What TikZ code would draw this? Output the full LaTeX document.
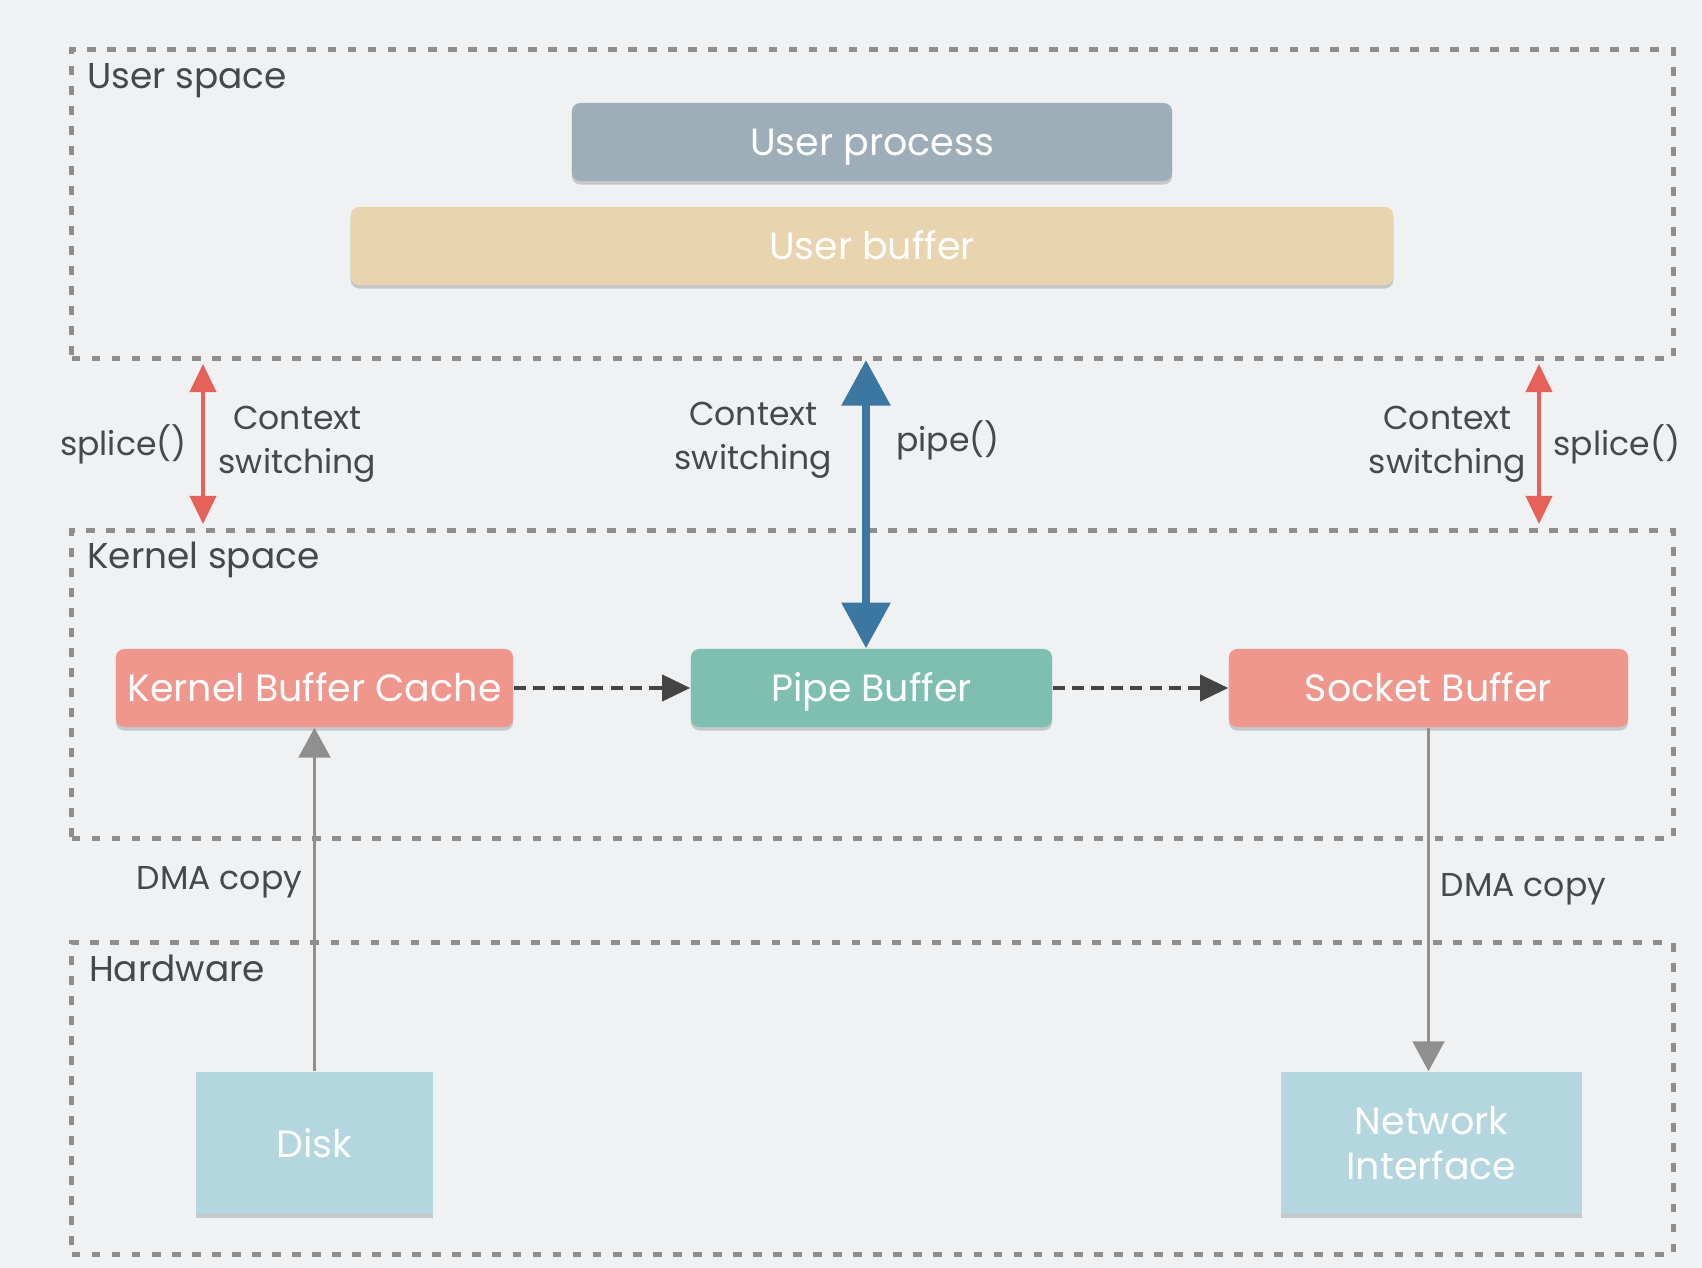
\documentclass[tikz,border=0pt]{standalone}
\usepackage{fontspec}
\setmainfont{Poppins}
\usetikzlibrary{positioning,arrows.meta,shadows}

\definecolor{bg}{HTML}{F0F1F3}
\definecolor{ink}{HTML}{46484C}
\definecolor{dashgray}{HTML}{8E8E8E}
\definecolor{procgray}{HTML}{9DAEB8}
\definecolor{bufsand}{HTML}{E8D4AE}
\definecolor{salmon}{HTML}{EF978D}
\definecolor{pipeteal}{HTML}{7EBFB2}
\definecolor{hwblue}{HTML}{B4D6DF}
\definecolor{ctxred}{HTML}{E5625B}
\definecolor{pipeblue}{HTML}{3B77A1}
\definecolor{dmagray}{HTML}{8F8F8F}
\definecolor{flowdark}{HTML}{444444}

\tikzset{
  layer/.style={draw=dashgray, line width=1.4pt, dash pattern=on 2.5pt off 3.2pt,
    minimum width=16.01cm, inner sep=0pt},
  layername/.style={text=ink, font=\fontsize{10.2}{12}\selectfont, inner sep=0pt},
  buf/.style={rounded corners=2.4pt, text=white, font=\fontsize{10.8}{13}\selectfont,
    minimum height=0.78cm, inner sep=0pt, text height=7.6pt, text depth=0pt,
    drop shadow={shadow xshift=0pt, shadow yshift=-1pt, opacity=0.22, fill=black!80}},
  hwbox/.style={buf, rounded corners=0pt, fill=hwblue, minimum height=1.42cm, align=center,
    text height=, text depth=},
  note/.style={text=ink, font=\fontsize{9.4}{12.5}\selectfont, align=center, inner sep=0pt},
  ctx/.style={ctxred, line width=0.9pt,
    {Triangle[width=7.5pt,length=8pt]}-{Triangle[width=7.5pt,length=8pt]}},
  syscall/.style={pipeblue, line width=2.3pt,
    {Triangle[width=13.5pt,length=13pt]}-{Triangle[width=13.5pt,length=13pt]}},
  dma/.style={dmagray, line width=0.9pt, -{Triangle[width=9pt,length=8.5pt]}},
  flow/.style={flowdark, line width=0.9pt, dash pattern=on 3.5pt off 2pt,
    -{Triangle[width=7.5pt,length=8pt]}},
}

\begin{document}
\begin{tikzpicture}[x=0.01cm, y=-0.01cm]
  \useasboundingbox (0,0) rectangle (1702,1268);
  \fill[bg] (0,0) rectangle (1702,1268);

  % layers
  \node[layer, minimum height=3.08cm] (userspace) at (872.5,204) {};
  \node[layer, minimum height=3.07cm] (kernelspace) at (872.5,684.5) {};
  \node[layer, minimum height=3.11cm] (hardware) at (872.5,1098.5) {};
  \node[layername, below right=4.3pt and 5pt of userspace.north west] {User space};
  \node[layername, below right=3.6pt and 5pt of kernelspace.north west] {Kernel space};
  \node[layername, below right=3.8pt and 5.5pt of hardware.north west] {Hardware};

  % user space
  \node[buf, fill=procgray, minimum width=6cm] (uproc) at (872,142) {User process};
  \node[buf, fill=bufsand, minimum width=10.42cm] (ubuf) at (872,246) {User buffer};

  % kernel space
  \node[buf, fill=salmon, minimum width=3.97cm] (kbc) at (314.5,688) {Kernel Buffer Cache};
  \node[buf, fill=pipeteal, minimum width=3.61cm] (pipe) at (871.5,688) {Pipe Buffer};
  \node[buf, fill=salmon, minimum width=3.99cm] (sock) at (1428.5,688) {Socket Buffer};

  % hardware
  \node[hwbox, minimum width=2.37cm] (disk) at (314.5,1143) {Disk};
  \node[hwbox, minimum width=3.01cm] (nic) at (1431.5,1143) {Network\\Interface};

  \coordinate (lctx) at (203,364);
  \coordinate (rctx) at (1539,364);
  \coordinate (callup) at (866,360);

  \draw[ctx] (lctx) -- ++(0,160)
    node[note, midway, left=4.2pt] {splice()}
    node[note, midway, right=4pt] {Context\\switching};
  \draw[ctx] (rctx) -- ++(0,160)
    node[note, midway, left=3.2pt] {Context\\switching}
    node[note, midway, right=3.7pt] {splice()};
  \draw[syscall] (callup) -- (callup |- pipe.north)
    node[note, pos=0.28, left=8.5pt] {Context\\switching}
    node[note, pos=0.28, right=7.5pt] {pipe()};

  \draw[flow] (kbc.east) -- (pipe.west);
  \draw[flow] (pipe.east) -- (sock.west);

  \draw[dma] (disk.north) -- (kbc.south)
    node[note, pos=0.55, left=3.1pt] {DMA copy};
  \draw[dma] (sock.south) -- (sock.south |- nic.north)
    node[note, pos=0.47, right=3.1pt] {DMA copy};
\end{tikzpicture}
\end{document}
